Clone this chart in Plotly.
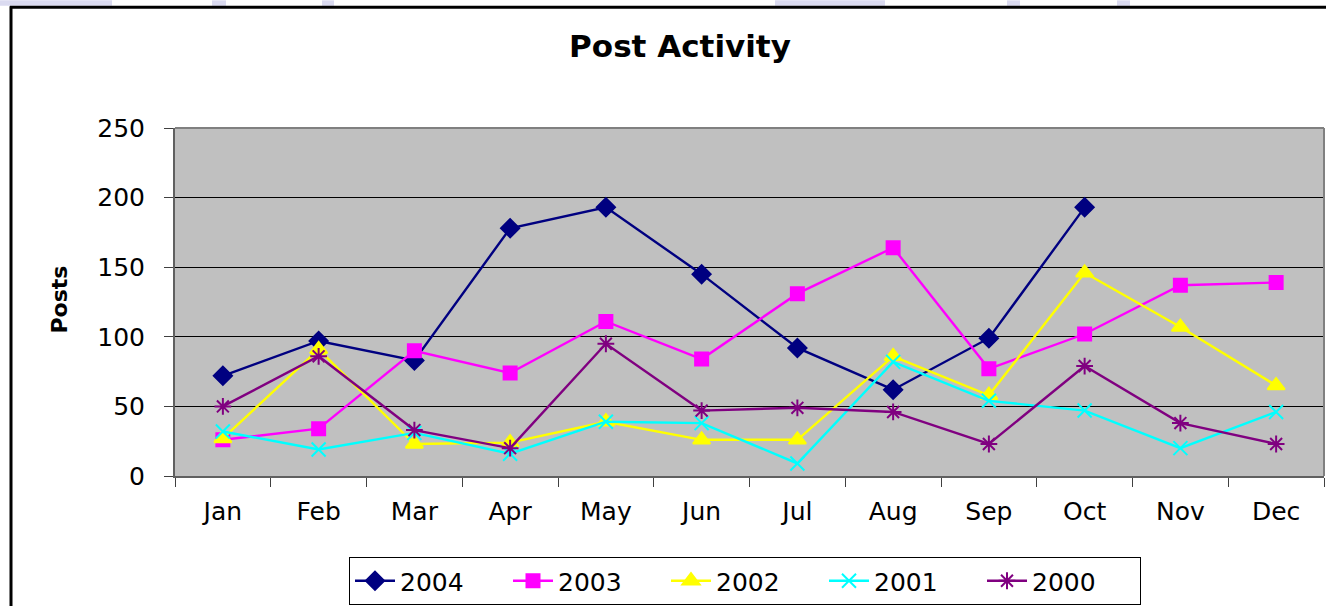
import plotly.graph_objects as go

months = ["Jan", "Feb", "Mar", "Apr", "May", "Jun", "Jul", "Aug", "Sep", "Oct", "Nov", "Dec"]
y2004 = [72, 97, 83, 178, 193, 145, 92, 62, 99, 193, None, None]
y2003 = [26, 34, 90, 74, 111, 84, 131, 164, 77, 102, 137, 139]
y2002 = [27, 91, 23, 24, 39, 26, 26, 86, 58, 146, 107, 65]
y2001 = [32, 19, 31, 16, 39, 38, 9, 82, 54, 47, 20, 46]
y2000 = [50, 86, 33, 20, 95, 47, 49, 46, 23, 79, 38, 23]
y_ticks = [0, 50, 100, 150, 200, 250]

series = [
    ("2004", y2004, "#000080", "diamond", 14),
    ("2003", y2003, "#FF00FF", "square", 13),
    ("2002", y2002, "#FFFF00", "triangle-up", 15),
    ("2001", y2001, "#00FFFF", "x-thin-open", 14),
    ("2000", y2000, "#800080", "asterisk-open", 14),
]

FONT = "DejaVu Sans, Liberation Sans, Arial, sans-serif"

fig = go.Figure()
for name, vals, color, sym, size in series:
    fig.add_trace(go.Scatter(
        x=months, y=vals, name=name, mode="lines+markers",
        line=dict(color=color, width=2.4),
        marker=dict(symbol=sym, size=size, color=color,
                    line=dict(color=color, width=2)),
        connectgaps=False,
    ))

L, R, T, B = 175, 1324, 128, 477
W, H = R - L, B - T


def px_x(p):
    return (p - L) / W


def px_y(p):
    return (B - p) / H


shapes = [
    # plot area top and right border
    dict(type="line", xref="paper", yref="paper", x0=0, x1=1, y0=1, y1=1,
         line=dict(color="#808080", width=2)),
    dict(type="line", xref="paper", yref="paper", x0=1, x1=1, y0=0, y1=1,
         line=dict(color="#808080", width=2)),
    # outer chart border
    dict(type="line", xref="paper", yref="paper", x0=px_x(11), x1=px_x(11), y0=px_y(6), y1=px_y(610),
         line=dict(color="black", width=3)),
    dict(type="line", xref="paper", yref="paper", x0=px_x(10), x1=px_x(1330), y0=px_y(7), y1=px_y(7),
         line=dict(color="black", width=3)),
]
# faint lavender background fragments above the chart border
for a, b in [(0, 112), (212, 226), (322, 334), (775, 885), (1007, 1020), (1117, 1130)]:
    shapes.append(dict(type="rect", xref="paper", yref="paper", layer="below",
                       x0=px_x(a), x1=px_x(b), y0=px_y(0), y1=px_y(5.5),
                       fillcolor="#DADAF0", line=dict(width=0)))

fig.update_layout(
    width=1326, height=606,
    margin=dict(l=L, r=1326 - R, t=T, b=606 - B),
    paper_bgcolor="white",
    plot_bgcolor="#C0C0C0",
    font=dict(family=FONT, size=25, color="black"),
    title=dict(text="<b>Post Activity</b>", x=680 / 1326, xref="container",
               y=1 - 46 / 606, yref="container", xanchor="center", yanchor="middle",
               font=dict(size=31)),
    showlegend=True,
    legend=dict(orientation="h", x=px_x(745), y=px_y(581), xanchor="center", yanchor="middle",
                bordercolor="black", borderwidth=1, bgcolor="white",
                font=dict(size=25), itemwidth=40, entrywidth=103, tracegroupgap=0),
    xaxis=dict(range=[-0.5, 11.5], showgrid=False, showline=True, linecolor="#606060", linewidth=2,
               ticks="outside", tickson="boundaries", ticklen=9, tickcolor="#404040",
               ticklabelstandoff=12, tickfont=dict(size=25)),
    yaxis=dict(range=[0, 250], tickvals=y_ticks, showgrid=True, gridcolor="black", gridwidth=1,
               showline=True, linecolor="#606060", linewidth=2, ticks="outside", ticklen=9,
               tickcolor="#404040", ticklabelstandoff=14, zeroline=False, tickfont=dict(size=25)),
    annotations=[dict(text="<b>Posts</b>", x=px_x(60), y=px_y(300), xref="paper", yref="paper",
                      textangle=-90, showarrow=False, font=dict(size=22),
                      xanchor="center", yanchor="middle")],
    shapes=shapes,
)

fig.write_html("out.html", config={"displayModeBar": False},
               post_script="document.body.style.margin='0';document.body.style.overflow='hidden';")
